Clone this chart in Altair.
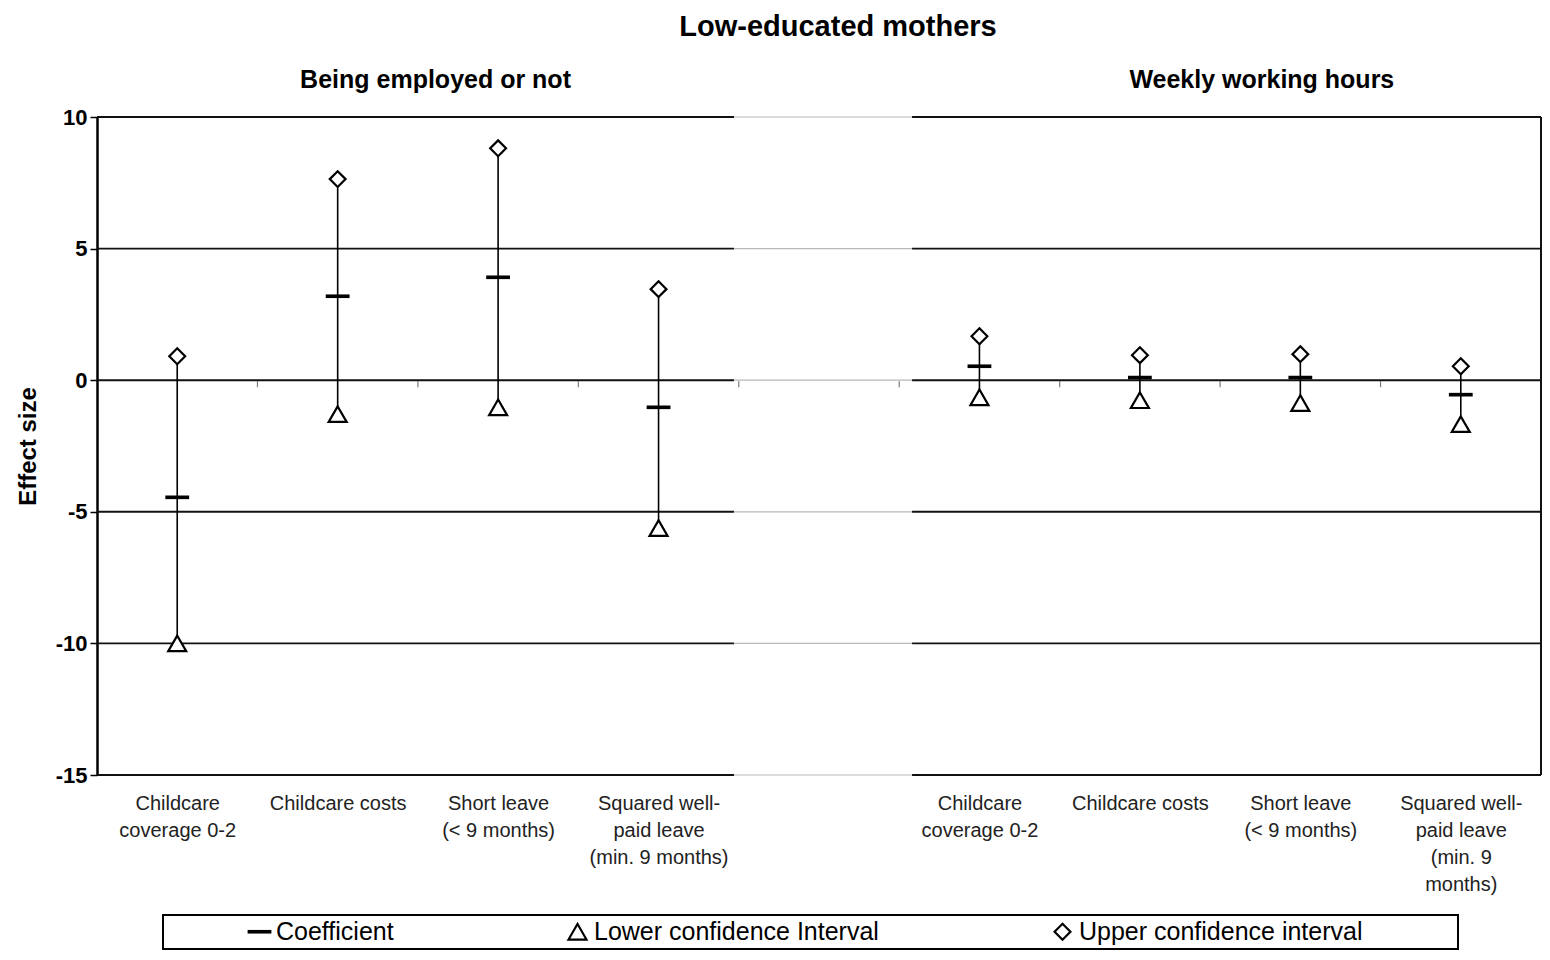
import json
import altair as alt
import pandas as pd

# ---------------- data ----------------
POSITIONS = [1, 2, 3, 4, 6, 7, 8, 9]
CATEGORY_LABELS = [
    "Childcare|coverage 0-2",
    "Childcare costs",
    "Short leave|(< 9 months)",
    "Squared well-|paid leave|(min. 9 months)",
    "Childcare|coverage 0-2",
    "Childcare costs",
    "Short leave|(< 9 months)",
    "Squared well-|paid leave|(min. 9|months)",
]
COEFFICIENT = [-4.45, 3.19, 3.91, -1.03, 0.53, 0.10, 0.10, -0.55]
LOWER_CI = [-10.0, -1.29, -1.03, -5.62, -0.65, -0.76, -0.87, -1.67]
UPPER_CI = [0.91, 7.64, 8.81, 3.46, 1.67, 0.95, 0.99, 0.53]
GROUP_TITLES = ["Being employed or not", "Weekly working hours"]
GROUP_TITLE_X = [2.61, 7.76]
Y_TICKS = [-15, -10, -5, 0, 5, 10]
SERIES = ["Coefficient", "Lower confidence Interval", "Upper confidence interval"]

FONT = "Liberation Sans"

# ---------------- tables ----------------
bars = pd.DataFrame({"x": POSITIONS, "lo": LOWER_CI, "hi": UPPER_CI})
pts = pd.DataFrame(
    [{"x": p, "v": v, "series": SERIES[0]} for p, v in zip(POSITIONS, COEFFICIENT)]
    + [{"x": p, "v": v, "series": SERIES[1]} for p, v in zip(POSITIONS, LOWER_CI)]
    + [{"x": p, "v": v, "series": SERIES[2]} for p, v in zip(POSITIONS, UPPER_CI)]
)

# horizontal grid lines, drawn in three pieces (middle piece is faint)
seg_breaks = [(0.5, 4.47, "dark"), (4.47, 5.58, "faint"), (5.58, 9.5, "dark")]
grid = pd.DataFrame(
    [{"y": y, "x1": a, "x2": b, "kind": k} for y in Y_TICKS for (a, b, k) in seg_breaks]
)
ticks0 = pd.DataFrame({"x": [1.5, 2.5, 3.5, 4.5, 5.5, 6.5, 7.5, 8.5], "y": [0] * 8})
titles = pd.DataFrame({"x": GROUP_TITLE_X, "y": [10, 10], "t": GROUP_TITLES})
border = pd.DataFrame({"x": [9.5], "y1": [-15], "y2": [10]})

lab_lookup = {p: l for p, l in zip(POSITIONS, CATEGORY_LABELS)}
lab_array = [lab_lookup.get(i, "") for i in range(0, 10)]
label_expr = "split(" + json.dumps(lab_array) + "[datum.value], '|')"

xscale = alt.Scale(domain=[0.5, 9.5], nice=False, zero=False)
yscale = alt.Scale(domain=[-15, 10], nice=False)

x_axis = alt.Axis(
    values=POSITIONS, labelExpr=label_expr, title=None, domain=False, ticks=False,
    grid=False, labelFont=FONT, labelFontSize=20, labelColor="#222",
    labelPadding=18, labelLineHeight=27, labelBaseline="top",
    labelAngle=0, labelAlign="center",
)
y_axis = alt.Axis(
    values=Y_TICKS, title="Effect size", grid=False, domain=True, domainColor="black",
    domainWidth=2.5, tickColor="black", tickSize=7, tickWidth=1.5,
    labelExpr="datum.value + ''",
    labelFont=FONT, labelFontSize=22, labelFontWeight="bold", labelColor="black",
    labelPadding=3, titleFont=FONT, titleFontSize=24, titleFontWeight="bold",
    titleColor="black", titlePadding=15,
)

grid_layer = alt.Chart(grid).mark_rule().encode(
    x=alt.X("x1:Q", scale=xscale, axis=x_axis),
    x2="x2:Q",
    y=alt.Y("y:Q", scale=yscale, axis=y_axis),
    color=alt.Color("kind:N", scale=alt.Scale(domain=["dark", "faint"], range=["#111", "#b8b8b8"]), legend=None),
    strokeWidth=alt.StrokeWidth("kind:N", scale=alt.Scale(domain=["dark", "faint"], range=[1.9, 1.2]), legend=None),
)

border_layer = alt.Chart(border).mark_rule(color="#111", strokeWidth=2).encode(
    x="x:Q", y="y1:Q", y2="y2:Q"
)

tick_layer = alt.Chart(ticks0).mark_tick(
    orient="vertical", color="#444", size=6, thickness=1.2, yOffset=4
).encode(x="x:Q", y="y:Q")

err_layer = alt.Chart(bars).mark_rule(color="black", strokeWidth=1.6).encode(
    x="x:Q", y="lo:Q", y2="hi:Q"
)

DASH = "M-1.2,-0.08L1.2,-0.08L1.2,0.08L-1.2,0.08Z"
DIAMOND = "M0,-0.88L0.88,0L0,0.88L-0.88,0Z"

legend_kw = dict(
    title=" ", titleOrient="right", titlePadding=92, titleFontSize=10,
    orient="none", legendX=66, legendY=798, direction="horizontal",
    labelFont=FONT, labelFontSize=25, labelColor="black", labelOffset=4,
    symbolSize=324, symbolStrokeWidth=2.2,
    symbolOffset=80, columnPadding=91, padding=4,
    strokeColor="black", labelLimit=600,
)

pts_layer = alt.Chart(pts).mark_point(
    filled=True, strokeWidth=2.2, opacity=1, fillOpacity=1, size=324
).encode(
    x="x:Q",
    y="v:Q",
    shape=alt.Shape("series:N", scale=alt.Scale(domain=SERIES, range=[DASH, "triangle-up", DIAMOND]),
                    legend=alt.Legend(**legend_kw)),
    fill=alt.Fill("series:N", scale=alt.Scale(domain=SERIES, range=["black", "white", "white"]),
                  legend=alt.Legend(**legend_kw)),
    stroke=alt.Stroke("series:N", scale=alt.Scale(domain=SERIES, range=["black", "black", "black"]),
                      legend=alt.Legend(**legend_kw)),
)

title_layer = alt.Chart(titles).mark_text(
    font=FONT, fontSize=25, fontWeight="bold", color="black", baseline="middle", dy=-37
).encode(x="x:Q", y="y:Q", text="t:N")

chart = alt.layer(
    grid_layer, border_layer, tick_layer, err_layer, pts_layer, title_layer
).properties(
    width=1444, height=658,
    title=alt.TitleParams("Low-educated mothers", font=FONT, fontSize=29, fontWeight="bold",
                          color="black", anchor="middle", offset=26, dx=19),
    autosize=alt.AutoSizeParams(type="none"),
    padding={"left": 89, "top": 109, "right": 1, "bottom": 176},
).configure_view(stroke=None).configure_legend(strokeWidth=2)

chart.save("out.html", embed_options={"renderer": "svg", "actions": False})
